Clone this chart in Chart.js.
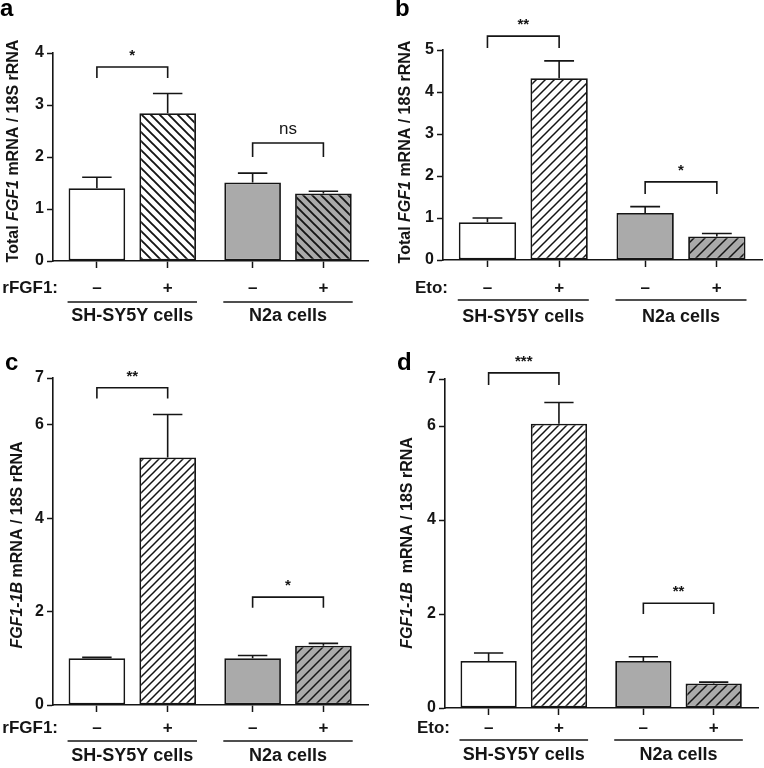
<!DOCTYPE html>
<html>
<head>
<meta charset="utf-8">
<script src="https://cdn.jsdelivr.net/npm/chart.js@4.4.1/dist/chart.umd.min.js"></script>
<style>
  body { margin: 0; background: #fff; }
  #page { position: relative; width: 764px; height: 768px; overflow: hidden; }
  .panel { position: absolute; }
</style>
</head>
<body>
<div id="page">
  <div class="panel" style="left:0;top:0;width:382px;height:330px"><canvas id="chartA"></canvas></div>
  <div class="panel" style="left:382px;top:0;width:382px;height:330px"><canvas id="chartB"></canvas></div>
  <div class="panel" style="left:0;top:330px;width:382px;height:438px"><canvas id="chartC"></canvas></div>
  <div class="panel" style="left:382px;top:330px;width:382px;height:438px"><canvas id="chartD"></canvas></div>
</div>
<script>
// ---- data ----
const groupNames = ["SH-SY5Y cells", "N2a cells"];
const signLabels = ["–", "+", "–", "+"];

// a: total FGF1, rFGF1 treatment
const totalRfgf1Means = [1.40, 2.84, 1.51, 1.30];
const totalRfgf1Errors = [0.21, 0.38, 0.18, 0.04];
// b: total FGF1, etoposide
const totalEtoMeans = [0.90, 4.33, 1.12, 0.56];
const totalEtoErrors = [0.10, 0.41, 0.15, 0.07];
// c: FGF1-1B, rFGF1 treatment
const fgf1bRfgf1Means = [1.00, 5.30, 1.00, 1.27];
const fgf1bRfgf1Errors = [0.02, 0.92, 0.06, 0.05];
// d: FGF1-1B, etoposide
const fgf1bEtoMeans = [1.00, 6.05, 1.00, 0.52];
const fgf1bEtoErrors = [0.17, 0.45, 0.09, 0.03];

const ticksTotalRfgf1 = [0, 1, 2, 3, 4];
const ticksTotalEto = [0, 1, 2, 3, 4, 5];
const ticksFgf1b = [0, 2, 4, 6, 7];

// significance brackets: bars compared, label, bracket level and leg end (y units)
const sigTotalRfgf1 = [
  { from: 0, to: 1, text: "*", level: 3.73, drop: 3.52 },
  { from: 2, to: 3, text: "ns", level: 2.27, drop: 2.0 }
];
const sigTotalEto = [
  { from: 0, to: 1, text: "**", level: 5.33, drop: 5.05 },
  { from: 2, to: 3, text: "*", level: 1.86, drop: 1.57 }
];
const sigFgf1bRfgf1 = [
  { from: 0, to: 1, text: "**", level: 6.79, drop: 6.56 },
  { from: 2, to: 3, text: "*", level: 2.31, drop: 2.08 }
];
const sigFgf1bEto = [
  { from: 0, to: 1, text: "***", level: 7.13, drop: 6.87 },
  { from: 2, to: 3, text: "**", level: 2.23, drop: 2.0 }
];

// ---- styling ----
const ink = "#151515";
const grayFill = "#aaaaaa";
const fontFamily = "'Liberation Sans', Arial, Helvetica, sans-serif";
const slotPositions = [1, 2, 3.2, 4.2];   // x slots for the four bars

function makeHatch(bg, dir, gap, lw) {
  const c = document.createElement("canvas");
  c.width = gap; c.height = gap;
  const g = c.getContext("2d");
  g.fillStyle = bg;
  g.fillRect(0, 0, gap, gap);
  g.strokeStyle = ink;
  g.lineWidth = lw;
  g.beginPath();
  if (dir === "/") {
    g.moveTo(-1, gap + 1); g.lineTo(gap + 1, -1);
    g.moveTo(-2, 2); g.lineTo(2, -2);
    g.moveTo(gap - 2, gap + 2); g.lineTo(gap + 2, gap - 2);
  } else {
    g.moveTo(-1, -1); g.lineTo(gap + 1, gap + 1);
    g.moveTo(gap - 2, -2); g.lineTo(gap + 2, 2);
    g.moveTo(-2, gap - 2); g.lineTo(2, gap + 2);
  }
  g.stroke();
  return g.createPattern(c, "repeat");
}

const decor = {
  id: "decor",
  afterDraw(chart, args, opts) {
    const ctx = chart.ctx;
    const y = chart.scales.y;
    const area = chart.chartArea;
    const bars = chart.getDatasetMeta(0).data;
    ctx.save();
    ctx.strokeStyle = ink;
    ctx.fillStyle = ink;
    ctx.lineWidth = 1.6;

    // error bars (upper only)
    bars.forEach((bar, i) => {
      const top = y.getPixelForValue(opts.means[i] + opts.errors[i]);
      const half = bar.width * 0.26;
      ctx.beginPath();
      ctx.moveTo(bar.x, bar.y);
      ctx.lineTo(bar.x, top);
      ctx.moveTo(bar.x - half, top);
      ctx.lineTo(bar.x + half, top);
      ctx.stroke();
    });

    // significance brackets
    opts.sig.forEach(s => {
      const x1 = bars[s.from].x, x2 = bars[s.to].x;
      const yl = y.getPixelForValue(s.level), yd = y.getPixelForValue(s.drop);
      ctx.beginPath();
      ctx.moveTo(x1, yd); ctx.lineTo(x1, yl); ctx.lineTo(x2, yl); ctx.lineTo(x2, yd);
      ctx.stroke();
      ctx.textAlign = "center";
      ctx.textBaseline = "alphabetic";
      if (s.text === "ns") {
        ctx.font = "17px " + fontFamily;
        ctx.fillText(s.text, (x1 + x2) / 2, yl - 9);
      } else {
        ctx.font = "bold 15px " + fontFamily;
        ctx.fillText(s.text, (x1 + x2) / 2, yl - 7);
      }
    });

    // treatment label, group underlines and names
    const base = area.bottom;
    ctx.font = "bold 17px " + fontFamily;
    ctx.textAlign = "right";
    ctx.textBaseline = "middle";
    ctx.fillText(opts.treatment, area.left + 5, base + opts.signDy);
    ctx.font = "bold 18px " + fontFamily;
    ctx.textAlign = "center";
    ctx.lineWidth = 1.5;
    [[0, 1], [2, 3]].forEach((pair, g) => {
      const l = bars[pair[0]].x - bars[pair[0]].width / 2 - 1;
      const r = bars[pair[1]].x + bars[pair[1]].width / 2 + 1;
      ctx.beginPath();
      ctx.moveTo(l, base + opts.lineDy);
      ctx.lineTo(r, base + opts.lineDy);
      ctx.stroke();
      ctx.fillText(groupNames[g], (l + r) / 2, base + opts.textDy);
    });

    // y axis title with italic gene name
    ctx.translate(opts.titleX, opts.titleY);
    ctx.rotate(-Math.PI / 2);
    ctx.textAlign = "left";
    const parts = opts.title.map(p => {
      const f = (p[1] ? "italic bold 16px " : "bold 16px ") + fontFamily;
      ctx.font = f;
      return { text: p[0], font: f, w: ctx.measureText(p[0]).width };
    });
    let x = -parts.reduce((s, p) => s + p.w, 0) / 2;
    parts.forEach(p => {
      ctx.font = p.font;
      ctx.fillText(p.text, x, 0);
      x += p.w;
    });
    ctx.setTransform(1, 0, 0, 1, 0, 0);

    // panel letter
    ctx.font = "bold 24px " + fontFamily;
    ctx.textAlign = "left";
    ctx.textBaseline = "alphabetic";
    ctx.fillStyle = "#000";
    ctx.fillText(opts.letter, opts.letterX, opts.letterY);
    ctx.restore();
  }
};

function makePanel(id, p) {
  const fills = [
    "#ffffff",
    makeHatch("#ffffff", p.hatch, p.gapWhite, p.hatchWidth),
    grayFill,
    makeHatch(grayFill, p.hatch, p.gapGray, p.hatchWidth)
  ];
  return new Chart(document.getElementById(id), {
    type: "bar",
    data: {
      datasets: [{
        data: p.means.map((m, i) => ({ x: slotPositions[i], y: m })),
        backgroundColor: fills,
        borderColor: ink,
        borderWidth: 1.8,
        borderSkipped: false,
        barPercentage: 1.0,
        categoryPercentage: 0.8
      }]
    },
    options: {
      responsive: true,
      maintainAspectRatio: false,
      animation: false,
      events: [],
      layout: { padding: { top: p.top, right: p.right, left: 0, bottom: 0 } },
      plugins: {
        legend: { display: false },
        tooltip: { enabled: false },
        decor: {
          means: p.means, errors: p.errors, sig: p.sig, treatment: p.treatment,
          title: p.title, titleX: p.titleX, titleY: p.titleY,
          letter: p.letter, letterX: p.letterX, letterY: p.letterY,
          signDy: p.signDy, lineDy: p.lineDy, textDy: p.textDy
        }
      },
      scales: {
        x: {
          type: "linear",
          offset: false,
          min: 0.38,
          max: 4.83,
          afterBuildTicks: s => { s.ticks = slotPositions.map(v => ({ value: v })); },
          afterFit: s => { s.height = p.xh; },
          grid: { display: true, offset: false, drawOnChartArea: false, drawTicks: true, tickLength: 7, tickColor: ink, tickWidth: 1.5, color: ink },
          border: { display: true, color: ink, width: 1.6 },
          ticks: {
            autoSkip: false, maxRotation: 0, color: ink, padding: p.signPad,
            font: { family: fontFamily, size: 17, weight: "bold" },
            callback: (v, i) => signLabels[i]
          }
        },
        y: {
          min: 0,
          max: p.ticks[p.ticks.length - 1],
          afterBuildTicks: s => { s.ticks = p.ticks.map(v => ({ value: v })); },
          afterFit: s => { s.width = p.yw; },
          grid: { display: true, drawOnChartArea: false, drawTicks: true, tickLength: 6, tickColor: ink, tickWidth: 1.5, color: ink },
          border: { display: true, color: ink, width: 1.6 },
          ticks: { color: ink, padding: 3, font: { family: fontFamily, size: 16, weight: "bold" } }
        }
      }
    },
    plugins: [decor]
  });
}

makePanel("chartA", {
  means: totalRfgf1Means, errors: totalRfgf1Errors, sig: sigTotalRfgf1, ticks: ticksTotalRfgf1,
  treatment: "rFGF1:", hatch: "\\", gapWhite: 9, gapGray: 9, hatchWidth: 1.9,
  letter: "a", letterX: 0, letterY: 16,
  title: [["Total ", false], ["FGF1", true], [" mRNA / 18S rRNA", false]], titleX: 14, titleY: 151,
  yw: 53, top: 53, right: 14, xh: 69, signPad: 10, signDy: 27, lineDy: 41, textDy: 55
});
makePanel("chartB", {
  means: totalEtoMeans, errors: totalEtoErrors, sig: sigTotalEto, ticks: ticksTotalEto,
  treatment: "Eto:", hatch: "/", gapWhite: 9, gapGray: 11, hatchWidth: 1.5,
  letter: "b", letterX: 13, letterY: 16,
  title: [["Total ", false], ["FGF1", true], [" mRNA / 18S rRNA", false]], titleX: 24, titleY: 152,
  yw: 61, top: 50, right: 2, xh: 70, signPad: 11, signDy: 28, lineDy: 40, textDy: 57
});
makePanel("chartC", {
  means: fgf1bRfgf1Means, errors: fgf1bRfgf1Errors, sig: sigFgf1bRfgf1, ticks: ticksFgf1b,
  treatment: "rFGF1:", hatch: "/", gapWhite: 8, gapGray: 10, hatchWidth: 1.5,
  letter: "c", letterX: 5, letterY: 40,
  title: [["FGF1-1B", true], [" mRNA / 18S rRNA", false]], titleX: 18, titleY: 215,
  yw: 53, top: 48, right: 14, xh: 63, signPad: 6, signDy: 23, lineDy: 36, textDy: 51
});
makePanel("chartD", {
  means: fgf1bEtoMeans, errors: fgf1bEtoErrors, sig: sigFgf1bEto, ticks: ticksFgf1b,
  treatment: "Eto:", hatch: "/", gapWhite: 8, gapGray: 10, hatchWidth: 1.5,
  letter: "d", letterX: 15, letterY: 40,
  title: [["FGF1-1B", true], ["  mRNA / 18S rRNA", false]], titleX: 26, titleY: 213,
  yw: 63, top: 49, right: 6, xh: 60, signPad: 3, signDy: 20, lineDy: 32, textDy: 47
});
</script>
</body>
</html>
